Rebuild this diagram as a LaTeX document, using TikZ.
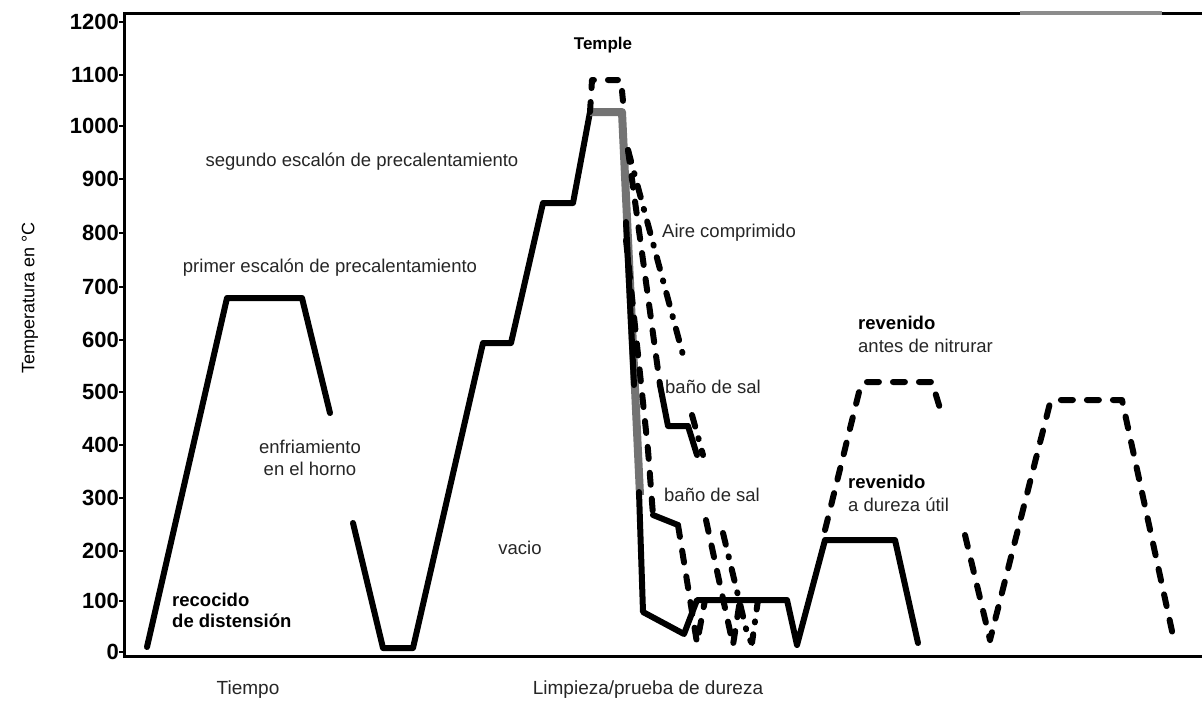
\documentclass[tikz,border=0pt]{standalone}
\usepackage{fontspec}
\setmainfont{Liberation Sans}
\begin{document}
\begin{tikzpicture}[x=1pt,y=-1pt,
  curve/.style={line width=6pt, line join=round, line cap=round},
  dsh/.style={curve, dash pattern=on 12pt off 14pt},
  dshdot/.style={curve, dash pattern=on 12pt off 12pt on 1pt off 12pt},
  greyline/.style={line width=8pt, line join=round, color=black!55},
  lbl/.style={font=\fontsize{18.5}{21}\selectfont, text=black!85, inner sep=0pt},
  blbl/.style={font=\bfseries\fontsize{18.5}{21}\selectfont, inner sep=0pt},
  ax/.style={line width=3pt},
  num/.style={font=\bfseries\fontsize{22}{24}\selectfont, anchor=east, inner sep=0pt}]
\useasboundingbox (0,0) rectangle (1202,705);
\fill[white] (0,0) rectangle (1202,705);
% frame
\draw[ax] (124,658) -- (124,13) -- (1202,13);
\draw[ax] (124,656) -- (1202,656);
\draw[line width=4pt, black!45] (1020,13) -- (1162,13);
% y axis
\foreach \t/\y in {0/652,100/601,200/551,300/498,400/445,500/392,600/340,700/287,800/233,900/179,1000/126,1100/75,1200/22}{
  \draw[line width=1.5pt] (119,\y) -- (124,\y);
  \node[num] (n\t) at (119,\y) {\t};
}
\node[font=\fontsize{18}{20}\selectfont, rotate=90, inner sep=0pt] (ylab) at (30,298) {Temperatura en °C};
% first cycle
\draw[curve] (147,647) -- (227,298) -- (302,298) -- (330,413);
% second cycle and preheating
\draw[curve] (353,523) -- (383,648) -- (413,648) -- (483,343) -- (511,343) -- (543,203) -- (573,203) -- (590,112);
% temple
\draw[greyline] (590,112) -- (622,112) -- (640,495);
\draw[dsh, dash pattern=on 10pt off 14pt] (590,112) -- (592,80) -- (621,80) -- (624,112);
% vacuum (solid)
\draw[curve] (626,222) -- (634,385);
\draw[curve] (639,492) -- (643,612) -- (684,634) -- (697,600) -- (787,600) -- (797,645) -- (825,540) -- (895,540) -- (918,643);
% lower salt bath
\draw[dsh] (626,240) -- (648,450) -- (653,515);
\draw[curve] (653,515) -- (678,525);
\draw[dsh] (678,525) -- (697,643) -- (705,600);
% upper salt bath
\draw[dsh] (628,150) -- (660,385);
\draw[curve] (660,385) -- (668,426) -- (688,426) -- (697,455);
\draw[dsh] (706,520) -- (733,645) -- (740,600);
% compressed air
\draw[dshdot] (628,150) -- (683,355);
\draw[dshdot] (692,415) -- (703,455);
\draw[dshdot] (723,533) -- (748,637) -- (752,643) -- (758,600);
% tempering before nitriding
\draw[dsh] (825,530) -- (860,388) -- (865,382) -- (932,382) -- (942,415);
% final tempering
\draw[dsh] (965,535) -- (990,640) -- (1050,403) -- (1056,400) -- (1122,400) -- (1175,645);
% labels
\node[blbl, font=\bfseries\fontsize{17}{19}\selectfont] (temple) at (603,45) {Temple};
\node[lbl] (seg) at (362,162) {segundo escalón de precalentamiento};
\node[lbl] (prim) at (330,268) {primer escalón de precalentamiento};
\node[lbl, anchor=west] (aire) at (662,233) {Aire comprimido};
\node[lbl, anchor=west] (bano1) at (665,387) {baño de sal};
\node[lbl, anchor=west] (bano2) at (664,495) {baño de sal};
\node[blbl, anchor=west] (rev1) at (858,323) {revenido};
\node[lbl, anchor=west] (ant) at (858,346) {antes de nitrurar};
\node[blbl, anchor=west] (rev2) at (848,482) {revenido};
\node[lbl, anchor=west] (dur) at (848,505) {a dureza útil};
\node[lbl] (enf) at (310,447) {enfriamiento};
\node[lbl] (horno) at (310,469) {en el horno};
\node[lbl] (vac) at (520,548) {vacio};
\node[blbl, anchor=west] (rec) at (172,600) {recocido};
\node[blbl, anchor=west] (dist) at (172,621) {de distensión};
\node[lbl, font=\fontsize{19}{21}\selectfont] (tiempo) at (248,690) {Tiempo};
\node[lbl, font=\fontsize{19}{21}\selectfont] (limp) at (648,690) {Limpieza/prueba de dureza};
\end{tikzpicture}
\end{document}
